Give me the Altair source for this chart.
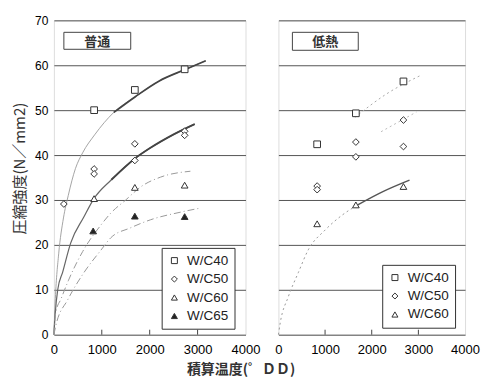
import altair as alt
import pandas as pd

# ---------------- data ----------------
series_left = ["W/C40", "W/C50", "W/C60", "W/C65"]
series_right = ["W/C40", "W/C50", "W/C60"]

# measured points, left panel (普通)
pl40_t = [840, 1690, 2730]
pl40_y = [50.0, 54.5, 59.1]
pl50_t = [208, 840, 840, 1690, 1690, 2730, 2730]
pl50_y = [29.1, 36.9, 35.8, 42.5, 38.8, 45.3, 44.4]
pl60_t = [840, 1690, 2730]
pl60_y = [30.3, 32.8, 33.3]
pl65_t = [820, 1690, 2730]
pl65_y = [23.1, 26.4, 26.3]

# measured points, right panel (低熱)
pr40_t = [830, 1660, 2680]
pr40_y = [42.4, 49.3, 56.4]
pr50_t = [830, 830, 1660, 1660, 2680, 2680]
pr50_y = [33.1, 32.3, 42.9, 39.6, 47.8, 41.9]
pr60_t = [830, 1660, 2680]
pr60_y = [24.7, 28.9, 33.0]

# curves, left panel
cl40_t = [0, 30, 100, 200, 300, 450, 600, 850, 1250, 1700, 2200, 2730, 3170]
cl40_y = [0, 8, 18, 26, 31, 37, 40.5, 44.5, 49.5, 53.0, 56.5, 59.0, 61.0]
cl40h_t = [1250, 1700, 2200, 2730, 3170]
cl40h_y = [49.5, 53.0, 56.5, 59.0, 61.0]
cl50_t = [0, 30, 80, 185, 350, 625, 830, 1200, 1700, 2000, 2500, 2940]
cl50_y = [0, 5, 10, 14, 20.4, 26.2, 30.2, 34.5, 39.3, 41.5, 44.6, 46.9]
cl50h_t = [1200, 1700, 2000, 2500, 2940]
cl50h_y = [34.5, 39.3, 41.5, 44.6, 46.9]
cl60_t = [0, 40, 150, 300, 600, 980, 1190, 1500, 1810, 2230, 2850]
cl60_y = [0, 5, 8, 12, 18.5, 24.4, 27.1, 30.0, 32.9, 35.1, 36.4]
cl65_t = [0, 40, 290, 625, 980, 1190, 1600, 2020, 2650, 3060]
cl65_y = [0, 2, 7.8, 13.8, 18.8, 21.6, 23.8, 25.6, 27.3, 28.2]

# curves, right panel
cr40_t = [1640, 2300, 3060]
cr40_y = [48.4, 53.5, 57.8]
cr50_t = [2200, 2960]
cr50_y = [45.2, 49.6]
cr60_t = [0, 40, 210, 425, 640, 1000, 1350, 1700]
cr60_y = [0, 2.7, 8.4, 13.8, 18.9, 23.3, 26.5, 28.9]
cr60s_t = [1700, 2250, 2810]
cr60s_y = [28.9, 31.9, 34.4]

x_ticks = [0, 1000, 2000, 3000, 4000]
y_ticks = [0, 10, 20, 30, 40, 50, 60, 70]
inner_ticks = [1000, 2000, 3000]

panel_left_label = "普通"
panel_right_label = "低熱"
y_title = "圧縮強度(N／mm2)"
x_title = "積算温度(゜ＤＤ)"

# ---------------- build tables ----------------
def pts(t, y, s):
    return pd.DataFrame({"t": t, "y": y, "series": s})

left_pts = pd.concat([pts(pl40_t, pl40_y, "W/C40"), pts(pl50_t, pl50_y, "W/C50"),
                      pts(pl60_t, pl60_y, "W/C60"), pts(pl65_t, pl65_y, "W/C65")])
right_pts = pd.concat([pts(pr40_t, pr40_y, "W/C40"), pts(pr50_t, pr50_y, "W/C50"),
                       pts(pr60_t, pr60_y, "W/C60")])

FONT = "Liberation Sans"
JFONT = "Noto Sans CJK JP"
W_L, W_R, H = 192, 187, 315

xscale = alt.Scale(domain=[0, 4000], nice=False)
yscale = alt.Scale(domain=[0, 70], nice=False)

XAXIS = alt.Axis(values=x_ticks, title=None, grid=False, ticks=False, domain=False,
                 labelFontSize=13, labelPadding=9, format="d", labelFlush=False,
                 minExtent=0)
YAXIS_L = alt.Axis(values=y_ticks, title=y_title, grid=True, ticks=False, domain=False,
                   labelFontSize=12, labelPadding=6, titleFont=JFONT, titleFontSize=15,
                   titleFontWeight="normal", titlePadding=7, titleColor="#333",
                   titleY=148, minExtent=0, gridColor="#555", gridWidth=1)
YAXIS_R = alt.Axis(values=y_ticks, title=None, grid=True, ticks=False, domain=False,
                   labels=False, minExtent=0, maxExtent=0, labelPadding=0,
                   gridColor="#555", gridWidth=1)


def enc_x():
    return alt.X("t:Q", scale=xscale, axis=XAXIS)


def enc_y(side):
    return alt.Y("y:Q", scale=yscale, axis=YAXIS_L if side == "L" else YAXIS_R)


def curve(side, t, y, color, width, dash=None):
    df = pd.DataFrame({"t": t, "y": y})
    kw = dict(color=color, strokeWidth=width, interpolate="monotone")
    if dash:
        kw["strokeDash"] = dash
    return alt.Chart(df).mark_line(**kw).encode(x=enc_x(), y=enc_y(side))


def point_layer(side, df, domain, lx, ly):
    n = len(domain)
    shapes = ["square", "diamond", "triangle-up", "triangle-up"][:n]
    fills = ["white", "white", "white", "#222"][:n]
    leg = alt.Legend(title=None, orient="none", legendX=lx, legendY=ly,
                     labelFont=FONT, labelFontSize=13.5, labelColor="#222",
                     symbolSize=36, symbolStrokeWidth=1,
                     strokeColor="#333", fillColor="white", padding=6,
                     rowPadding=3.5, labelOffset=6)
    return alt.Chart(df).mark_point(filled=True, strokeWidth=1, size=45, opacity=1).encode(
        x=enc_x(),
        y=enc_y(side),
        shape=alt.Shape("series:N", scale=alt.Scale(domain=domain, range=shapes), legend=leg),
        fill=alt.Fill("series:N", scale=alt.Scale(domain=domain, range=fills), legend=leg),
        stroke=alt.Stroke("series:N", scale=alt.Scale(domain=domain, range=["#333"] * n), legend=leg),
    )


def label_box(text, x0, x1, y0, y1):
    df = pd.DataFrame({"label": [text]})
    box = alt.Chart(df).mark_rect(fill="white", stroke="#444", strokeWidth=1).encode(
        x=alt.value(x0), x2=alt.value(x1), y=alt.value(y0), y2=alt.value(y1))
    txt = alt.Chart(df).mark_text(font=JFONT, fontSize=13, fontWeight="bold", color="#333").encode(
        x=alt.value((x0 + x1) / 2), y=alt.value((y0 + y1) / 2 + 1), text="label:N")
    return box + txt


def inner_tick_layer(side):
    df = pd.DataFrame({"t": inner_ticks})
    return alt.Chart(df).mark_rule(color="#444", strokeWidth=1).encode(
        x=enc_x(), y=alt.value(H), y2=alt.value(H - 5))


GRAY = "#9a9a9a"
DARK = "#444"
DASHDOT = [7, 3, 1, 3]
DOT = [2, 3]

left = alt.layer(
    curve("L", cl40_t, cl40_y, GRAY, 0.9),
    curve("L", cl40h_t, cl40h_y, DARK, 1.8),
    curve("L", cl50_t, cl50_y, "#666", 1.2),
    curve("L", cl50h_t, cl50h_y, DARK, 1.8),
    curve("L", cl60_t, cl60_y, GRAY, 1.0, DASHDOT),
    curve("L", cl65_t, cl65_y, GRAY, 1.0, DASHDOT),
    inner_tick_layer("L"),
    point_layer("L", left_pts, series_left, 108, 228),
    label_box(panel_left_label, 10, 77, 12, 29),
).properties(width=W_L, height=H)

right = alt.layer(
    curve("R", cr40_t, cr40_y, "#aaa", 1.0, DOT),
    curve("R", cr50_t, cr50_y, "#bbb", 1.0, DOT),
    curve("R", cr60_t, cr60_y, GRAY, 1.0, DOT),
    curve("R", cr60s_t, cr60s_y, "#555", 1.4),
    inner_tick_layer("R"),
    point_layer("R", right_pts, series_right, 104, 245),
    label_box(panel_right_label, 14, 80, 12, 30),
).properties(width=W_R, height=H)

chart = alt.hconcat(left, right, spacing=33, bounds="flush").resolve_scale(
    shape="independent", fill="independent", stroke="independent"
).resolve_legend(shape="independent", fill="independent", stroke="independent").properties(
    title=alt.TitleParams(text=x_title, orient="bottom", anchor="middle", font=JFONT,
                          fontSize=14, fontWeight="bold", color="#333", offset=6, dx=-5),
    padding={"left": 12, "top": 13, "right": 2, "bottom": 0},
).configure_view(stroke="#555", strokeWidth=1).configure_axis(
    labelFont=FONT, labelColor="#333"
).configure(background="white")

chart.save("out.html", embed_options={"renderer": "svg", "actions": False})
